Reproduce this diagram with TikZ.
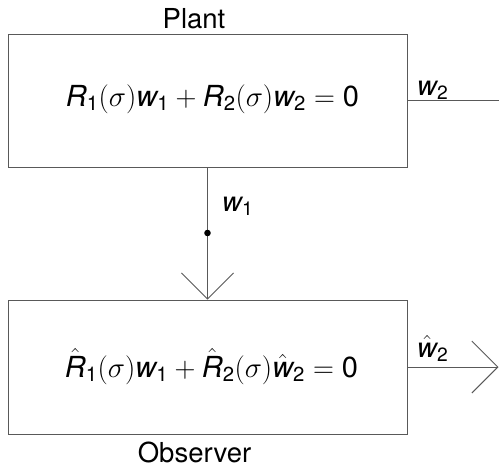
\RequirePackage{fix-cm}
\documentclass[tikz,border=0pt]{standalone}
\usepackage{amsmath}
\usepackage{fontspec}
\setmainfont{TeX Gyre Heros}
\usetikzlibrary{arrows.meta}
% italic sans letters and upright sans digits inside formulas
\newcommand\vR{\text{\itshape R}}
\newcommand\vw{\text{\itshape w}}
\newcommand\dg[1]{\text{#1}}
\colorlet{linecol}{black!65}
\tikzset{
  blockbox/.style={draw=linecol, line width=0.9pt, minimum width=399pt, minimum height=133pt, inner sep=0pt},
  wire/.style={draw=linecol, line width=0.9pt},
  vtip/.style={-{Straight Barb[length=26pt, width=52pt, line width=0.9pt]}},
  txt/.style={font=\fontsize{27.5}{33}\selectfont, inner sep=0pt},
  eqtxt/.style={font=\fontsize{29}{35}\selectfont, inner sep=0pt},
}
\begin{document}
\begin{tikzpicture}[x=1pt, y=-1pt]
  \useasboundingbox (0,0) rectangle (499,467);

  % the two blocks
  \node[blockbox] (plant) at (207.5,100.5) {};
  \node[blockbox, minimum height=134pt] (observer) at (207.5,367) {};

  % block titles
  \node[txt, anchor=base] (plantname) at (194,28.5) {Plant};
  \node[txt, anchor=base] (obsname) at (194.5,462.5) {Observer};

  % block equations
  \node[eqtxt, anchor=base] (planteq) at (212.5,106.5)
    {$\vR_{\dg1}(\sigma)\vw_{\dg1}+\vR_{\dg2}(\sigma)\vw_{\dg2}=\dg{0}$};
  \node[eqtxt, anchor=base] (obseq) at (211.5,377.5)
    {$\hat{\vR}_{\dg1}(\sigma)\vw_{\dg1}+\hat{\vR}_{\dg2}(\sigma)\hat{\vw}_{\dg2}=\dg{0}$};

  % w1 from the plant into the observer, with a pick-off dot
  \coordinate (pick) at (207.5,233);
  \draw[wire, vtip] (plant.south) -- (observer.north);
  \fill[black] (pick) circle (3.3pt);
  \node[txt, anchor=base west] (w1lbl) at (222,211) {$\vw_{\dg1}$};

  % plant output w2
  \coordinate (w2end) at (499,100.5);
  \draw[wire] (plant.east) -- (w2end);
  \node[txt, anchor=base west] (w2lbl) at (417,95) {$\vw_{\dg2}$};

  % observer output (estimate of w2)
  \coordinate (w2hatend) at (498.5,367);
  \draw[wire, vtip] (observer.east) -- (w2hatend);
  \node[txt, anchor=base west] (w2hatlbl) at (417,357) {$\hat{\vw}_{\dg2}$};
\end{tikzpicture}
\end{document}
